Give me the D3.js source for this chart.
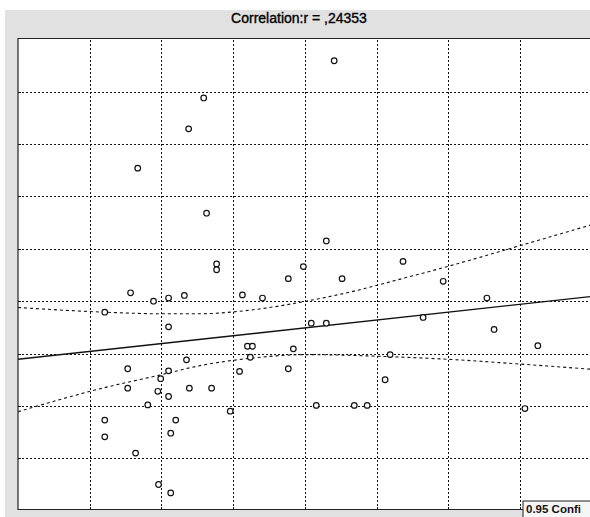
<!DOCTYPE html>
<html>
<head>
<meta charset="utf-8">
<script src="https://cdn.jsdelivr.net/npm/d3@7"></script>
<style>
  body { margin: 0; background: #fff; }
  svg { display: block; }
</style>
</head>
<body>
<script>
const TITLE_TEXT = "Correlation:r = ,24353";
const LEGEND_TEXT = "0.95 Confi";

// scatter values
const xValues = [44.1, 25.9, 23.8, 16.7, 26.3, 43.0, 27.7, 27.7, 53.7, 39.8,
  37.7, 45.2, 59.3, 15.7, 18.9, 21.0, 23.2, 31.3, 34.1, 65.4,
  12.1, 56.5, 40.9, 43.0, 21.0, 66.4, 32.0, 32.7, 38.4, 51.9,
  72.5, 32.4, 23.5, 15.3, 21.0, 37.7, 30.9, 19.9, 51.2, 15.3,
  19.5, 21.0, 23.9, 27.0, 18.1, 29.6, 41.6, 46.9, 48.7, 70.7,
  12.1, 22.0, 12.1, 21.3, 16.4, 19.6, 21.3];
const yValues = [85.9, 78.8, 72.9, 65.4, 56.8, 51.5, 47.1, 46.0, 47.6, 46.6,
  44.3, 44.3, 43.8, 41.6, 40.0, 40.6, 41.1, 41.2, 40.6, 40.6,
  37.9, 36.9, 35.8, 35.8, 35.1, 34.6, 31.4, 31.4, 30.9, 29.8,
  31.5, 29.3, 28.8, 27.1, 26.7, 27.1, 26.6, 25.2, 25.0, 23.4,
  22.8, 21.8, 23.4, 23.4, 20.2, 19.0, 20.1, 20.1, 20.1, 19.5,
  17.3, 17.3, 14.1, 14.8, 11.0, 5.0, 3.4];

// regression line and 0.95 band
const fitX = [0, 80];
const fitY = [28.9, 40.9];
const bandX = [0, 12.1, 19.8, 25.4, 32.4, 40.2, 47.7, 51.9, 60.1, 70.0, 80];
const bandUpper = [38.8, 37.9, 37.6, 37.6, 38.3, 40.0, 42.2, 43.7, 46.7, 50.6, 54.6];
const bandLower = [18.9, 23.5, 25.9, 27.7, 29.1, 29.8, 29.6, 29.4, 28.9, 28.0, 27.0];

const xTicks = [10, 20, 30, 40, 50, 60, 70];
const yTicks = [10, 20, 30, 40, 50, 60, 70, 80];

const width = 590,
  height = 517;

const plot = { left: 18, top: 38.5, right: 592, bottom: 509.5 };

const svg = d3
  .select("body")
  .append("svg")
  .attr("width", width)
  .attr("height", height);

svg.append("rect")
  .attr("x", 5).attr("y", 10)
  .attr("width", width - 5).attr("height", height - 10)
  .attr("fill", "#e1e1e1");

svg.append("text")
  .attr("x", 299)
  .attr("y", 23)
  .attr("text-anchor", "middle")
  .attr("font-family", "Liberation Sans, Arial, sans-serif")
  .attr("font-size", 14)
  .attr("fill", "#000")
  .attr("stroke", "#000")
  .attr("stroke-width", 0.35)
  .text(TITLE_TEXT);

const xScale = d3.scaleLinear().domain([0, 80]).range([18, 591.6]);
const yScale = d3.scaleLinear().domain([0, 90]).range([510.7, 39.3]);

svg.append("defs").append("clipPath").attr("id", "clip")
  .append("rect")
  .attr("x", plot.left).attr("y", plot.top)
  .attr("width", plot.right - plot.left).attr("height", plot.bottom - plot.top);

svg.append("rect")
  .attr("x", plot.left).attr("y", plot.top)
  .attr("width", plot.right - plot.left).attr("height", plot.bottom - plot.top)
  .attr("fill", "#fff");

const g = svg.append("g").attr("clip-path", "url(#clip)");

// grid
const xGrid = d3.axisBottom(xScale).tickValues(xTicks)
  .tickSize(-(plot.bottom - plot.top)).tickFormat("");
const yGrid = d3.axisLeft(yScale).tickValues(yTicks)
  .tickSize(-(plot.right - plot.left)).tickFormat("");

g.append("g").attr("class", "grid")
  .attr("transform", `translate(0, ${plot.bottom})`)
  .call(xGrid);
g.append("g").attr("class", "grid")
  .attr("transform", `translate(${plot.left}, 0)`)
  .call(yGrid);

g.selectAll(".grid .domain").remove();
g.selectAll(".grid line")
  .attr("stroke", "#111")
  .attr("stroke-width", 1)
  .attr("stroke-dasharray", "2,2")
  .attr("shape-rendering", "crispEdges");

// small ticks on the frame
svg.append("g")
  .attr("transform", `translate(${plot.left}, 0)`)
  .call(d3.axisLeft(yScale).tickValues(yTicks).tickSize(-3).tickFormat("").tickSizeOuter(0))
  .call(s => s.select(".domain").remove())
  .selectAll("line").attr("stroke", "#111").attr("shape-rendering", "crispEdges");
svg.append("g")
  .attr("transform", `translate(0, ${plot.bottom})`)
  .call(d3.axisBottom(xScale).tickValues(xTicks).tickSize(-3).tickFormat("").tickSizeOuter(0))
  .call(s => s.select(".domain").remove())
  .selectAll("line").attr("stroke", "#111").attr("shape-rendering", "crispEdges");

// confidence band
const band = d3.line()
  .x(d => xScale(d[0]))
  .y(d => yScale(d[1]))
  .curve(d3.curveMonotoneX);

[bandUpper, bandLower].forEach(arr => {
  g.append("path")
    .datum(bandX.map((x, i) => [x, arr[i]]))
    .attr("d", band)
    .attr("fill", "none")
    .attr("stroke", "#111")
    .attr("stroke-width", 1.1)
    .attr("stroke-dasharray", "3,3");
});

// fit line
g.append("path")
  .datum(fitX.map((x, i) => [x, fitY[i]]))
  .attr("d", d3.line().x(d => xScale(d[0])).y(d => yScale(d[1])))
  .attr("fill", "none")
  .attr("stroke", "#111")
  .attr("stroke-width", 1.4);

// points
g.selectAll("circle")
  .data(xValues.map((x, i) => ({ x, y: yValues[i] })))
  .join("circle")
  .attr("cx", d => xScale(d.x))
  .attr("cy", d => yScale(d.y))
  .attr("r", 2.8)
  .attr("fill", "#fff")
  .attr("stroke", "#111")
  .attr("stroke-width", 1.2);

// frame
svg.append("path")
  .attr("d", `M${plot.right},${plot.top}H${plot.left}V${plot.bottom}H${plot.right}`)
  .attr("fill", "none")
  .attr("stroke", "#222")
  .attr("stroke-width", 1.2);

// legend box, running off the window edge as in the original
const legend = svg.append("g").attr("transform", "translate(523, 501)");
legend.append("rect")
  .attr("width", 120).attr("height", 24)
  .attr("fill", "#f6f6f6")
  .attr("stroke", "#222");
legend.append("text")
  .attr("x", 3).attr("y", 12)
  .attr("font-family", "Liberation Sans, Arial, sans-serif")
  .attr("font-size", 11.5)
  .attr("font-weight", "bold")
  .attr("fill", "#111")
  .text(LEGEND_TEXT);
</script>
</body>
</html>
